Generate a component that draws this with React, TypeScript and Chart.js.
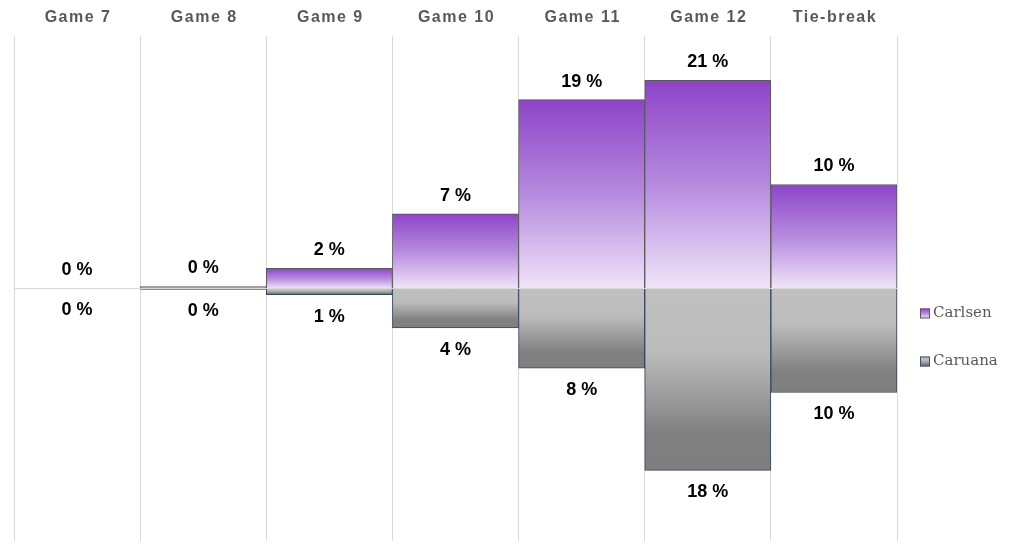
import React, { useEffect, useRef } from "react";
import { Chart, registerables } from "chart.js";

Chart.register(...registerables);

const categories = ["Game 7", "Game 8", "Game 9", "Game 10", "Game 11", "Game 12", "Tie-break"];
const carlsenValues = [0, 0.2, 2.0, 7.4, 18.7, 20.6, 10.3];
const caruanaValues = [0, -0.1, -0.6, -3.9, -7.9, -18.0, -10.3];
const carlsenLabels = ["0 %", "0 %", "2 %", "7 %", "19 %", "21 %", "10 %"];
const caruanaLabels = ["0 %", "0 %", "1 %", "4 %", "8 %", "18 %", "10 %"];
const seriesNames = ["Carlsen", "Caruana"];

const PURPLE_TOP = "#8d44c8";
const PURPLE_MID = "#b68ade";
const PURPLE_BOT = "#f0e4f8";

function purpleGradient(c: CanvasRenderingContext2D, top: number, bottom: number) {
  const g = c.createLinearGradient(0, top, 0, bottom);
  g.addColorStop(0, PURPLE_TOP);
  g.addColorStop(0.5, PURPLE_MID);
  g.addColorStop(1, PURPLE_BOT);
  return g;
}
function greyGradient(c: CanvasRenderingContext2D, top: number, bottom: number) {
  const g = c.createLinearGradient(0, top, 0, bottom);
  g.addColorStop(0, "#c0c0c0");
  g.addColorStop(0.35, "#bcbcbc");
  g.addColorStop(0.8, "#808080");
  g.addColorStop(1, "#7f7f7f");
  return g;
}

function ok(...v: number[]) {
  return v.every((n) => typeof n === "number" && isFinite(n));
}

const labelsPlugin = {
  id: "customLabels",
  afterDatasetsDraw(chart: any) {
    const c: CanvasRenderingContext2D = chart.ctx;
    const area = chart.chartArea;
    const x = chart.scales.x;
    const y = chart.scales.y;
    c.save();
    c.font = "bold 18px 'Liberation Sans', Arial, sans-serif";
    c.fillStyle = "#000000";
    c.textAlign = "center";
    c.textBaseline = "middle";
    const m0 = chart.getDatasetMeta(0);
    m0.data.forEach((el: any, i: number) => {
      c.fillText(carlsenLabels[i], el.x, el.y - 18);
    });
    const m1 = chart.getDatasetMeta(1);
    m1.data.forEach((el: any, i: number) => {
      c.fillText(caruanaLabels[i], el.x, el.y + 22);
    });
    c.font = "bold 16px 'Liberation Sans', Arial, sans-serif";
    c.fillStyle = "#595959";
    (c as any).letterSpacing = "1.5px";
    categories.forEach((lab, i) => {
      c.fillText(lab, x.getPixelForValue(i) + 1, area.top - 18);
    });
    (c as any).letterSpacing = "0px";
    const zero = y.getPixelForValue(0);
    const lx = area.right + 23;
    const items = [zero + 25, zero + 73];
    c.font = "15px 'DejaVu Serif', serif";
    c.textAlign = "left";
    items.forEach((cy, i) => {
      const top = cy - 5;
      c.fillStyle = i === 0 ? purpleGradient(c, top, top + 10) : greyGradient(c, top, top + 10);
      c.fillRect(lx, top, 10, 10);
      c.strokeStyle = i === 0 ? "#595959" : "#3c4f6b";
      c.lineWidth = 1;
      c.strokeRect(lx + 0.5, top + 0.5, 9, 9);
      c.fillStyle = "#595959";
      c.fillText(seriesNames[i], lx + 13, cy);
    });
    c.restore();
  },
};

export default function App() {
  const ref = useRef<HTMLCanvasElement | null>(null);
  useEffect(() => {
    document.body.style.margin = "0";
    if (!ref.current) return;
    const chart = new Chart(ref.current, {
      type: "bar",
      data: {
        labels: categories,
        datasets: [
          {
            label: seriesNames[0],
            data: carlsenValues,
            backgroundColor: (ctx: any) => {
              const ch = ctx.chart;
              const ys = ch.scales && ch.scales.y;
              if (ctx.type !== "data" || !ys) return PURPLE_MID;
              const top = ys.getPixelForValue(ctx.raw);
              const bot = ys.getPixelForValue(0);
              if (!ok(top, bot) || bot - top < 0.5) return PURPLE_MID;
              return purpleGradient(ch.ctx, top, bot);
            },
            borderColor: "#595959",
            borderWidth: 1,
            barPercentage: 1,
            categoryPercentage: 1,
          },
          {
            label: seriesNames[1],
            data: caruanaValues,
            backgroundColor: (ctx: any) => {
              const ch = ctx.chart;
              const ys = ch.scales && ch.scales.y;
              if (ctx.type !== "data" || !ys) return "#a0a0a0";
              const top = ys.getPixelForValue(0);
              const bot = ys.getPixelForValue(ctx.raw);
              if (!ok(top, bot) || bot - top < 0.5) return "#a0a0a0";
              return greyGradient(ch.ctx, top, bot);
            },
            borderColor: "#34465f",
            borderWidth: 1,
            barPercentage: 1,
            categoryPercentage: 1,
          },
        ],
      },
      options: {
        animation: false,
        responsive: true,
        maintainAspectRatio: false,
        layout: { padding: { top: 36, left: 14, right: 116, bottom: 14 } },
        plugins: {
          legend: { display: false },
          tooltip: { enabled: false },
        },
        scales: {
          x: {
            stacked: true,
            position: "top",
            offset: true,
            grid: { offset: true, color: "#d9d9d9", lineWidth: 1, drawTicks: false },
            border: { display: false },
            ticks: { display: false },
          },
          y: {
            stacked: true,
            min: -25,
            max: 25,
            grid: {
              drawTicks: false,
              color: (ctx: any) => (ctx.tick && ctx.tick.value === 0 ? "#d9d9d9" : "rgba(0,0,0,0)"),
            },
            border: { display: false },
            ticks: { display: false, stepSize: 5 },
          },
        },
      },
      plugins: [labelsPlugin],
    });
    return () => chart.destroy();
  }, []);
  return (
    <div style={{ width: 1013, height: 555, position: "relative", background: "#ffffff" }}>
      <canvas ref={ref} />
    </div>
  );
}
